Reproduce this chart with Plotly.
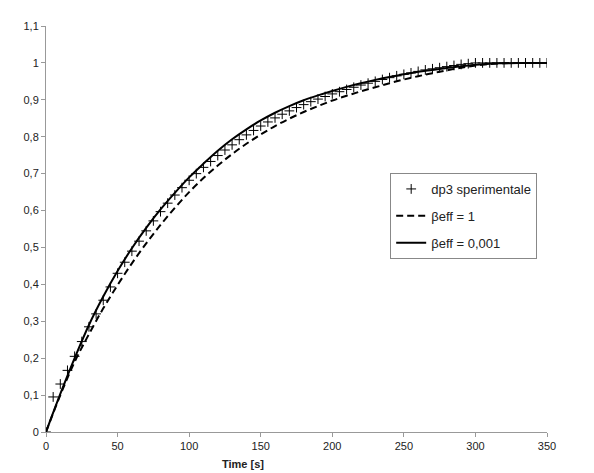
import plotly.graph_objects as go

# experimental data (every 5 s)
t_exp = list(range(0, 355, 5))
y_exp = [0.0, 0.095, 0.13, 0.167, 0.205, 0.245, 0.285, 0.32, 0.357, 0.393,
         0.43, 0.46, 0.49, 0.517, 0.545, 0.572, 0.597, 0.62, 0.642, 0.662,
         0.682, 0.7, 0.717, 0.733, 0.749, 0.764, 0.778, 0.792, 0.805, 0.817,
         0.829, 0.84, 0.851, 0.861, 0.87, 0.879, 0.887, 0.895, 0.902, 0.909,
         0.916, 0.922, 0.928, 0.934, 0.94, 0.945, 0.95, 0.955, 0.96, 0.965,
         0.969, 0.973, 0.977, 0.981, 0.984, 0.987, 0.99, 0.993, 0.996, 0.998,
         1.0, 1.0, 1.0, 1.0, 1.0, 1.0, 1.0, 1.0, 1.0, 1.0, 1.0]

# model curves (every 10 s)
t_model = list(range(0, 360, 10))
y_beta1 = [0.0, 0.1, 0.19, 0.265, 0.335, 0.398, 0.457, 0.511, 0.561, 0.607,
           0.65, 0.688, 0.722, 0.753, 0.781, 0.806, 0.829, 0.849, 0.867, 0.883,
           0.898, 0.911, 0.923, 0.934, 0.945, 0.955, 0.964, 0.972, 0.98, 0.987,
           0.993, 0.997, 0.999, 1.0, 1.0, 1.0]
y_beta0001 = [0.0, 0.103, 0.2, 0.29, 0.367, 0.436, 0.498, 0.553, 0.603, 0.648,
              0.69, 0.727, 0.762, 0.793, 0.82, 0.844, 0.865, 0.883, 0.899, 0.912,
              0.924, 0.935, 0.945, 0.954, 0.962, 0.969, 0.976, 0.981, 0.986, 0.991,
              0.995, 0.998, 0.999, 1.0, 1.0, 1.0]

x_ticks = [0, 50, 100, 150, 200, 250, 300, 350]
y_ticks = [0, 0.1, 0.2, 0.3, 0.4, 0.5, 0.6, 0.7, 0.8, 0.9, 1.0, 1.1]
y_tick_text = ["0", "0,1", "0,2", "0,3", "0,4", "0,5", "0,6", "0,7", "0,8", "0,9", "1", "1,1"]

fig = go.Figure()
fig.add_trace(go.Scatter(
    x=t_exp, y=y_exp, mode="markers", name="dp3 sperimentale", legendgroup="a",
    marker=dict(symbol="cross-thin", size=7, color="black",
                line=dict(width=1, color="black"))))
fig.add_trace(go.Scatter(
    x=t_model, y=y_beta1, mode="lines", name="βeff = 1", line_shape="spline",
    legendgroup="b",
    line=dict(color="black", width=2, dash="7px,4px")))
fig.add_trace(go.Scatter(
    x=t_model, y=y_beta0001, mode="lines", name="βeff = 0,001", line_shape="spline",
    legendgroup="c",
    line=dict(color="black", width=2)))

axis_common = dict(showgrid=False, zeroline=False, showline=True, linecolor="#999999",
                   linewidth=1, ticks="outside", ticklen=4, tickcolor="#999999",
                   automargin=False,
                   tickfont=dict(family="Liberation Sans, Arial", size=11, color="#222222"))

fig.update_layout(
    width=586, height=465,
    margin=dict(l=38, r=47, t=18, b=41),
    plot_bgcolor="white", paper_bgcolor="white",
    xaxis=dict(range=[0, 350], tickvals=x_ticks, **axis_common),
    yaxis=dict(range=[0, 1.1], tickvals=y_ticks, ticktext=y_tick_text, **axis_common),
    showlegend=True,
    legend=dict(x=0.687, y=0.638, xanchor="left", yanchor="top",
                bordercolor="#888888", borderwidth=1, bgcolor="white",
                font=dict(family="Liberation Sans, Arial", size=13, color="#222222"),
                traceorder="grouped", tracegroupgap=7, itemwidth=30),
    annotations=[dict(text="<b>Time [s]</b>", x=137.6, xref="x", y=-0.08, yref="paper",
                      showarrow=False, xanchor="center", yanchor="middle",
                      font=dict(family="Liberation Sans, Arial", size=11, color="#222222"))],
)

fig.write_html("out.html")
